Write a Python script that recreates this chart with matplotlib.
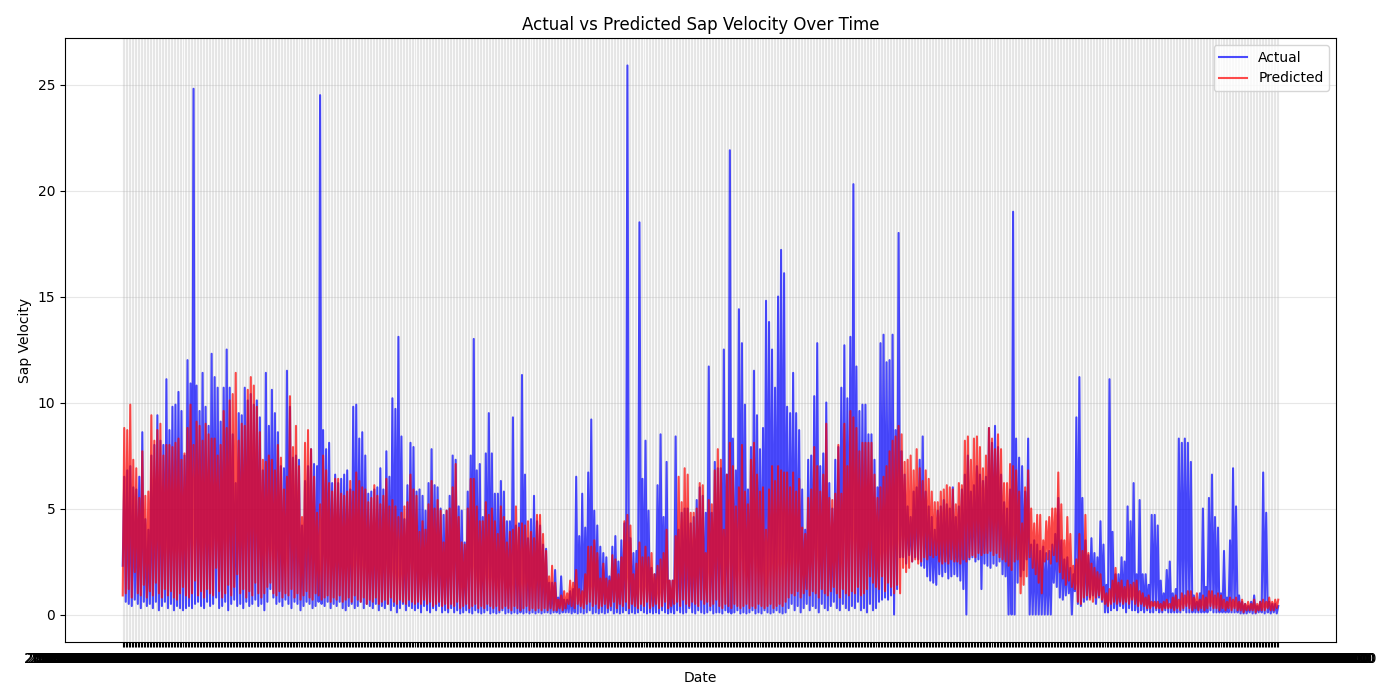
import numpy as np
import pandas as pd
import matplotlib
matplotlib.use('Agg')
import matplotlib.pyplot as plt

# daily highs / lows (one pair per cycle)
actual_peaks = [
    6.5, 6.8, 7.0, 6.0, 5.9, 6.5, 8.6, 4.5, 4.0, 7.5, 8.0, 9.4, 8.2, 8.0, 11.1, 8.7,
    9.8, 9.9, 10.5, 9.6, 7.5, 12.0, 10.9, 24.8, 10.8, 9.6, 11.4, 9.8, 8.9, 12.3, 11.2, 10.7,
    9.1, 10.7, 12.5, 10.7, 8.5, 6.2, 9.5, 9.4, 10.7, 10.1, 10.4, 9.9, 10.1, 9.3, 6.8, 11.4,
    8.9, 10.6, 9.5, 8.6, 7.0, 6.9, 11.5, 9.8, 7.4, 7.5, 7.3, 4.2, 6.3, 7.0, 7.8, 7.1,
    7.0, 24.5, 8.7, 7.8, 8.1, 6.2, 6.6, 6.2, 6.4, 6.6, 6.8, 5.9, 9.8, 9.9, 8.3, 8.6,
    7.5, 5.7, 5.8, 5.9, 6.0, 6.9, 5.9, 7.7, 6.5, 10.2, 9.7, 13.1, 8.4, 4.5, 6.1, 8.1, 7.9, 5.8,
    5.9, 5.6, 4.9, 6.2, 7.8, 6.1, 6.0, 5.0, 4.7, 4.9, 5.6, 7.5, 7.3, 5.1, 4.9, 3.4,
    5.8, 7.5, 13.0, 6.8, 7.1, 4.6, 7.6, 9.5, 7.6, 5.7, 5.7, 6.3, 5.8, 4.4, 4.4, 9.3,
    4.2, 4.3, 11.3, 6.6, 3.6, 4.5, 5.6, 4.4, 4.2, 3.3, 3.1, 1.5, 1.5, 2.1, 0.8, 1.8, 0.7, 0.7,
    1.1, 1.2, 6.5, 3.7, 5.7, 4.1, 6.7, 9.2, 4.9, 4.2, 3.2, 2.9, 2.7, 1.8, 3.2, 3.7,
    2.5, 3.5, 4.3, 25.9, 3.6, 2.9, 3.0, 18.5, 6.4, 8.2, 4.9, 2.2, 1.9, 6.1, 8.5, 4.6,
    7.2, 1.6, 1.6, 8.4, 4.0, 4.8, 5.0, 5.0, 4.3, 4.6, 5.4, 6.0, 5.6, 4.8, 11.7, 4.8, 7.2, 6.9,
    6.9, 12.5, 6.6, 21.9, 8.3, 6.8, 14.4, 12.8, 9.9, 5.9, 7.9, 11.5, 9.4, 7.8, 8.8, 14.8,
    13.8, 12.5, 10.7, 15.0, 17.2, 16.1, 9.8, 9.5, 11.4, 9.5, 8.7, 5.9, 4.0, 7.3, 7.5, 10.3,
    12.8, 7.0, 7.6, 10.0, 6.2, 5.0, 7.3, 7.9, 10.7, 12.7, 10.2, 13.1, 20.3, 11.7, 9.6, 9.9, 9.9, 8.5,
    8.5, 7.3, 6.0, 12.8, 13.2, 11.9, 12.0, 13.2, 8.7, 18.0, 7.7, 6.6, 5.1, 4.6, 5.8, 6.0,
    7.3, 8.4, 5.8, 5.1, 4.6, 4.0, 4.9, 5.1, 5.4, 5.2, 5.0, 6.0, 4.6, 5.1, 5.9, 6.6,
    7.5, 5.8, 6.1, 7.0, 6.6, 6.3, 6.5, 8.8, 8.1, 8.9, 7.9, 6.6, 5.3, 5.0, 5.9, 19.0, 8.3, 7.4,
    7.0, 5.8, 8.3, 3.3, 3.5, 3.3, 3.0, 3.2, 2.9, 3.0, 3.3, 3.8, 5.5, 3.5, 2.6, 2.7,
    2.2, 1.9, 9.3, 11.2, 5.5, 3.5, 2.8, 3.6, 2.9, 2.7, 4.4, 3.3, 1.4, 11.1, 3.9, 1.9,
    1.9, 2.7, 2.5, 5.1, 4.4, 6.2, 1.9, 5.4, 1.9, 1.9, 1.4, 4.7, 4.7, 4.2, 1.6, 1.0, 2.1, 2.5,
    1.0, 1.2, 8.3, 8.1, 8.3, 8.1, 7.2, 0.9, 0.6, 1.0, 5.0, 1.3, 5.5, 6.6, 4.6, 4.1,
    1.0, 3.0, 0.8, 3.5, 6.9, 5.1, 0.9, 0.6, 0.5, 0.4, 0.6, 0.9, 0.4, 0.6, 6.7, 4.8,
    0.6, 0.5, 0.5, 0.4,
]
actual_troughs = [
    2.3, 0.6, 0.5, 0.4, 0.7, 0.5, 0.3, 0.6, 0.4, 0.5, 0.3, 0.6, 0.2, 0.4, 0.6, 0.3,
    0.5, 0.2, 0.4, 0.3, 0.2, 0.3, 0.4, 0.3, 0.5, 0.6, 0.4, 0.3, 0.6, 0.4, 0.5, 0.8,
    0.3, 0.4, 0.6, 0.2, 0.5, 0.7, 0.4, 0.5, 0.3, 0.6, 0.4, 0.5, 0.7, 0.4, 0.5, 0.2,
    0.6, 1.2, 0.8, 0.5, 0.6, 0.4, 0.7, 0.5, 0.3, 0.6, 0.5, 0.2, 0.4, 0.6, 0.5, 0.3,
    0.4, 0.6, 0.5, 0.4, 0.6, 0.3, 0.5, 0.4, 0.6, 0.3, 0.2, 0.4, 0.5, 0.3, 0.4, 0.6,
    0.3, 0.5, 0.4, 0.3, 0.5, 0.2, 0.4, 0.3, 0.5, 0.2, 0.4, 0.1, 0.3, 0.5, 0.2, 0.4, 0.3, 0.2,
    0.3, 0.1, 0.4, 0.2, 0.1, 0.3, 0.2, 0.4, 0.1, 0.2, 0.1, 0.3, 0.1, 0.2, 0.05, 0.1,
    0.2, 0.1, 0.05, 0.2, 0.1, 0.05, 0.1, 0.2, 0.05, 0.1, 0.05, 0.1, 0.2, 0.05, 0.1, 0.05,
    0.1, 0.05, 0.1, 0.05, 0.1, 0.05, 0.1, 0.05, 0.1, 0.05, 0.1, 0.1, 0.05, 0.1, 0.1, 0.05, 0.1, 0.1,
    0.1, 0.05, 0.1, 0.05, 0.1, 0.05, 0.1, 0.2, 0.05, 0.1, 0.05, 0.1, 0.05, 0.1, 0.2, 0.05,
    0.1, 0.05, 0.1, 0.2, 0.05, 0.1, 0.05, 0.1, 0.2, 0.1, 0.05, 0.1, 0.05, 0.1, 0.05, 0.2,
    0.1, 0.05, 0.1, 0.05, 0.2, 0.1, 0.05, 0.1, 0.3, 0.1, 0.05, 0.2, 0.1, 0.05, 0.1, 0.2, 0.05, 0.1,
    0.1, 0.05, 0.2, 0.1, 0.05, 0.1, 0.2, 0.05, 0.1, 0.05, 0.1, 0.2, 0.05, 0.1, 0.05, 0.2,
    0.1, 0.05, 0.1, 0.2, 0.1, 0.05, 0.1, 0.3, 0.5, 0.2, 0.4, 0.1, 0.3, 0.5, 0.2, 0.4,
    0.3, 0.1, 0.5, 0.3, 0.2, 0.4, 0.6, 0.3, 0.2, 0.5, 0.3, 0.2, 0.4, 0.3, 0.6, 0.2, 0.3, 0.1,
    0.5, 0.2, 0.3, 0.6, 0.7, 0.8, 0.7, 0.9, 0.0, 1.2, 2.7, 2.7, 2.4, 2.8, 2.5, 2.7,
    2.6, 2.3, 2.2, 1.8, 1.6, 1.5, 1.4, 1.9, 1.8, 2.0, 1.7, 1.8, 1.9, 1.8, 1.6, 1.2,
    0.0, 2.6, 2.7, 2.5, 2.6, 1.2, 2.4, 2.3, 2.2, 2.4, 2.3, 2.5, 1.9, 1.8, 0.0, 0.0, 0.0, 1.5,
    1.8, 2.1, 2.6, 0.0, 0.0, 0.0, 0.0, 0.0, 0.0, 0.0, 0.0, 1.5, 1.3, 0.8, 0.7, 0.9,
    1.0, 0.0, 1.1, 0.5, 0.4, 0.6, 0.7, 0.8, 0.9, 0.5, 0.8, 0.6, 0.1, 0.1, 0.2, 0.3,
    0.2, 0.4, 0.3, 0.1, 0.3, 0.2, 0.2, 0.1, 0.2, 0.1, 0.2, 0.1, 0.1, 0.2, 0.1, 0.1, 0.2, 0.1,
    0.1, 0.1, 0.1, 0.1, 0.2, 0.1, 0.1, 0.1, 0.1, 0.1, 0.1, 0.1, 0.1, 0.2, 0.1, 0.1,
    0.1, 0.1, 0.1, 0.1, 0.1, 0.1, 0.1, 0.05, 0.05, 0.05, 0.1, 0.05, 0.05, 0.1, 0.1, 0.05,
    0.1, 0.05, 0.1, 0.05,
]
predicted_peaks = [
    8.8, 8.7, 9.9, 7.3, 6.9, 5.5, 7.7, 5.6, 5.8, 9.4, 8.2, 8.7, 9.0, 7.5, 8.0, 8.0,
    7.9, 8.1, 8.3, 7.3, 7.6, 8.8, 9.9, 8.0, 9.1, 8.9, 8.2, 9.0, 8.5, 8.3, 8.3, 7.5,
    8.0, 9.6, 8.8, 10.1, 10.4, 11.4, 8.2, 9.0, 8.9, 10.6, 11.2, 10.8, 9.8, 8.6, 7.3, 7.2,
    7.5, 7.3, 6.8, 8.0, 7.4, 5.9, 6.5, 10.3, 7.9, 8.9, 7.0, 4.6, 8.1, 8.7, 7.8, 6.5,
    4.8, 5.2, 7.5, 6.8, 6.2, 5.8, 6.4, 6.4, 5.7, 5.6, 5.8, 6.3, 5.8, 6.7, 6.3, 6.0,
    5.9, 5.3, 5.5, 6.1, 5.6, 5.2, 5.6, 6.4, 5.1, 5.4, 5.1, 4.6, 4.8, 5.1, 5.3, 6.6, 5.9, 5.6,
    3.9, 4.4, 4.0, 5.2, 6.3, 5.0, 5.4, 4.9, 3.4, 4.9, 5.0, 6.0, 7.1, 4.6, 3.4, 3.3,
    5.0, 6.4, 6.4, 5.1, 4.4, 4.4, 5.3, 4.7, 5.0, 4.4, 3.8, 5.1, 4.6, 3.4, 3.9, 4.0,
    5.1, 4.1, 4.3, 4.2, 4.4, 3.9, 3.6, 4.7, 4.7, 3.8, 3.0, 1.8, 2.3, 1.5, 0.7, 0.9, 1.1, 1.0,
    1.6, 1.5, 2.1, 1.2, 1.1, 1.9, 3.2, 3.2, 3.5, 2.9, 1.7, 2.4, 1.7, 1.6, 2.8, 2.6,
    1.9, 2.7, 4.4, 4.7, 4.2, 1.9, 2.4, 3.4, 2.7, 3.2, 2.7, 2.9, 1.9, 2.3, 2.6, 2.9,
    4.0, 1.6, 1.6, 3.7, 6.5, 5.3, 6.9, 6.6, 4.8, 4.8, 5.0, 6.2, 6.1, 2.9, 5.4, 5.2, 6.8, 7.8,
    7.3, 4.0, 6.6, 8.1, 7.0, 5.1, 6.0, 8.0, 5.8, 5.2, 7.3, 8.1, 6.6, 5.8, 6.0, 4.0,
    5.9, 7.0, 6.3, 7.0, 6.8, 6.7, 6.7, 6.0, 6.7, 5.8, 6.4, 4.1, 3.8, 5.5, 5.9, 7.9,
    7.0, 5.8, 6.6, 9.0, 5.5, 5.4, 5.7, 8.0, 5.7, 9.0, 7.0, 9.6, 9.3, 8.8, 7.7, 8.1, 8.1, 8.1,
    8.1, 6.6, 5.5, 6.0, 6.5, 7.0, 7.7, 8.2, 8.4, 8.9, 8.5, 7.2, 7.3, 7.5, 6.8, 7.8,
    6.9, 6.3, 6.8, 6.4, 5.8, 5.3, 5.3, 5.8, 5.9, 6.1, 6.0, 5.9, 5.2, 6.2, 6.1, 8.2,
    8.4, 7.3, 8.3, 8.4, 7.9, 6.9, 7.5, 8.8, 8.3, 7.8, 8.5, 7.8, 6.2, 6.2, 7.1, 7.0, 6.8, 5.8,
    4.3, 6.0, 6.8, 5.0, 4.3, 4.7, 4.7, 3.5, 4.4, 4.6, 5.0, 5.0, 6.7, 5.2, 3.5, 4.6,
    3.8, 2.3, 2.6, 3.8, 3.0, 4.7, 2.9, 2.4, 2.2, 2.0, 1.9, 1.3, 1.0, 1.2, 1.6, 2.2,
    1.5, 1.6, 1.3, 1.6, 1.4, 1.5, 1.6, 1.1, 1.0, 0.8, 0.9, 0.6, 0.6, 0.6, 0.5, 0.6, 0.7, 0.5,
    0.8, 0.9, 0.7, 1.0, 0.9, 1.1, 1.1, 0.8, 1.0, 0.7, 0.9, 0.8, 1.1, 1.1, 0.9, 1.0,
    0.9, 0.7, 0.6, 0.8, 0.7, 0.8, 0.6, 0.7, 0.5, 0.6, 0.5, 0.7, 0.5, 0.6, 0.7, 0.6,
    0.8, 0.6, 0.7, 0.7,
]
predicted_troughs = [
    0.9, 1.0, 1.2, 0.8, 2.0, 1.0, 0.9, 1.4, 0.8, 1.1, 0.9, 1.5, 1.0, 0.8, 1.2, 0.9,
    1.1, 0.8, 0.7, 1.0, 1.3, 0.9, 0.8, 1.0, 1.6, 0.9, 1.1, 0.8, 1.2, 1.0, 0.9, 2.2,
    1.1, 0.8, 1.0, 1.4, 0.9, 1.3, 1.9, 1.0, 1.2, 0.8, 1.1, 0.9, 1.5, 1.0, 0.8, 1.0,
    1.3, 1.5, 1.0, 0.9, 1.1, 0.8, 1.0, 0.9, 1.2, 0.8, 1.0, 0.7, 0.9, 1.1, 0.8, 0.7,
    1.0, 0.9, 0.7, 0.8, 0.9, 0.6, 0.8, 0.7, 0.9, 0.6, 0.7, 0.8, 0.6, 0.9, 0.7, 0.6,
    0.8, 0.5, 0.7, 0.6, 0.8, 0.5, 0.6, 0.7, 0.5, 0.8, 0.6, 0.5, 0.7, 0.6, 0.5, 0.7, 0.6, 0.5,
    0.6, 0.5, 0.7, 0.5, 0.6, 0.4, 0.5, 0.6, 0.4, 0.5, 0.3, 0.5, 0.4, 0.6, 0.3, 0.4,
    0.5, 0.3, 0.4, 0.5, 0.3, 0.4, 0.3, 0.5, 0.4, 0.3, 0.4, 0.2, 0.3, 0.4, 0.3, 0.2,
    0.4, 0.3, 0.2, 0.3, 0.4, 0.2, 0.3, 0.2, 0.3, 0.2, 0.3, 0.2, 0.3, 0.2, 0.2, 0.3, 0.2, 0.3,
    0.5, 0.4, 0.3, 0.5, 0.4, 0.3, 0.5, 0.6, 0.4, 0.5, 0.3, 0.4, 0.5, 0.3, 0.4, 0.6,
    0.3, 0.5, 0.4, 0.6, 0.3, 0.5, 0.4, 0.3, 0.5, 0.4, 0.6, 0.3, 0.4, 0.5, 0.3, 0.4,
    0.6, 0.3, 0.4, 0.5, 0.6, 0.4, 0.7, 0.5, 0.4, 0.6, 0.5, 0.4, 0.7, 0.5, 0.6, 0.4, 0.5, 0.7,
    0.4, 0.3, 0.5, 0.4, 0.3, 0.5, 0.4, 0.3, 0.4, 0.5, 0.3, 0.4, 0.3, 0.5, 0.4, 0.3,
    0.4, 0.5, 0.3, 0.4, 0.5, 0.4, 0.6, 0.8, 1.0, 0.9, 1.1, 0.8, 1.0, 1.2, 0.9, 1.1,
    1.0, 0.8, 1.2, 1.0, 0.9, 1.1, 1.3, 1.0, 0.8, 1.2, 1.0, 0.9, 1.1, 1.0, 1.3, 0.9, 1.0, 1.2,
    1.8, 1.5, 1.3, 1.2, 1.8, 1.1, 1.5, 1.3, 1.0, 1.4, 1.0, 2.2, 2.0, 2.2, 2.5, 2.6,
    2.4, 2.5, 2.7, 2.6, 2.8, 2.7, 2.8, 2.5, 2.4, 2.5, 2.4, 2.6, 2.5, 2.5, 2.4, 2.6,
    2.5, 2.7, 2.8, 2.7, 2.9, 2.8, 2.9, 2.9, 3.0, 2.8, 2.9, 2.7, 2.6, 2.5, 2.3, 2.1, 2.5, 2.6,
    1.0, 1.4, 1.8, 2.7, 2.2, 1.9, 1.5, 1.0, 2.5, 2.6, 2.4, 2.8, 2.5, 2.0, 1.7, 1.4,
    1.6, 1.3, 1.2, 0.6, 0.5, 0.8, 0.9, 0.7, 0.6, 0.8, 0.9, 0.7, 0.5, 0.4, 0.5, 0.6,
    0.5, 0.6, 0.5, 0.6, 0.5, 0.7, 0.5, 0.4, 0.5, 0.4, 0.3, 0.3, 0.4, 0.3, 0.3, 0.2, 0.3, 0.3,
    0.3, 0.2, 0.3, 0.2, 0.3, 0.4, 0.3, 0.2, 0.3, 0.2, 0.3, 0.2, 0.3, 0.4, 0.3, 0.3,
    0.2, 0.3, 0.2, 0.3, 0.2, 0.3, 0.2, 0.2, 0.1, 0.2, 0.2, 0.2, 0.1, 0.2, 0.2, 0.2,
    0.3, 0.2, 0.2, 0.3,
]

start_date = '2019-04-01'
step = '12h'

actual = np.column_stack([actual_troughs, actual_peaks]).ravel()
predicted = np.column_stack([predicted_troughs, predicted_peaks]).ravel()
dates = pd.date_range(start_date, periods=len(actual), freq=step, tz='UTC').astype(str)

fig, ax = plt.subplots(figsize=(14, 7), dpi=100)
ax.plot(dates, actual, label='Actual', color='blue', alpha=0.7)
ax.plot(dates, predicted, label='Predicted', color='red', alpha=0.7)
ax.set_title('Actual vs Predicted Sap Velocity Over Time')
ax.set_xlabel('Date')
ax.set_ylabel('Sap Velocity')
ax.legend()
ax.grid(True, alpha=0.3)
fig.subplots_adjust(left=0.0464, right=0.9543, top=0.9457, bottom=0.0829)
fig.savefig('out.png')
